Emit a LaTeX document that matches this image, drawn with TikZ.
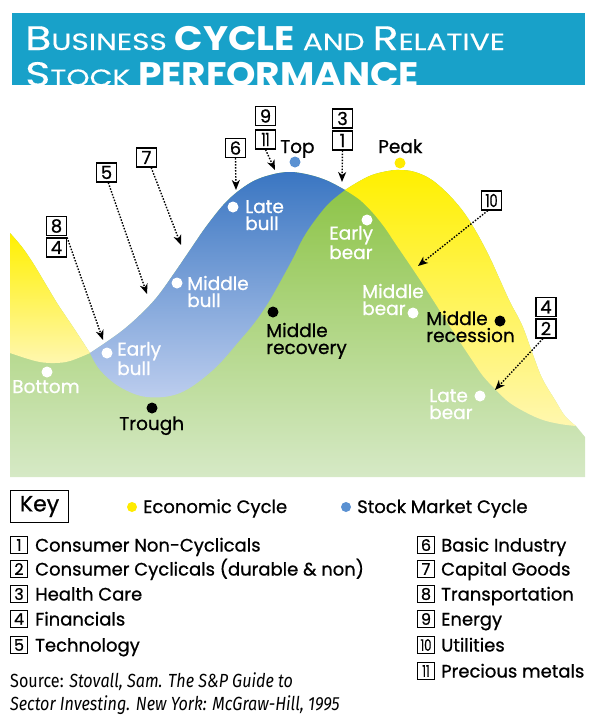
\documentclass[tikz,border=0pt]{standalone}
\usepackage{fontspec}
\usepackage{graphicx}
\setmainfont{Poppins}
\newfontfamily\medfont[FakeBold=0.8]{Poppins}
\newfontfamily\titlereg[FakeStretch=1.26,FakeBold=0.3]{Poppins}
\newfontfamily\titlebold[FakeStretch=1.1]{Poppins}
\newfontfamily\srcfont[FakeStretch=0.85]{Fira Sans}
\usetikzlibrary{arrows.meta}
\definecolor{titlebg}{RGB}{24,161,201}
\definecolor{greenTop}{RGB}{137,194,64}
\definecolor{greenBot}{RGB}{214,233,198}
\definecolor{blueTop}{RGB}{58,118,194}
\definecolor{blueBot}{RGB}{188,205,238}
\definecolor{yelTop}{RGB}{255,240,0}
\definecolor{yelMid}{RGB}{255,242,40}
\definecolor{yelBot}{RGB}{255,247,175}
\definecolor{dotBlue}{RGB}{90,145,210}
\definecolor{dotYel}{RGB}{255,235,0}
\newcommand{\tbig}{\titlereg\mdseries\fontsize{34}{34}\selectfont}
\newcommand{\tsmall}{\titlereg\mdseries\fontsize{23.5}{23.5}\selectfont}
\newcommand{\tbold}{\titlebold\bfseries\fontsize{34}{34}\selectfont}
\newcommand{\nn}[1]{\scalebox{0.72}[1]{#1}}
\tikzset{
  numbox/.style={draw, line width=1.2pt, minimum width=20pt, minimum height=19pt, inner sep=0pt, font=\medfont\fontsize{18}{18}\selectfont},
  keybox/.style={draw, line width=1.1pt, minimum width=17pt, minimum height=17pt, inner sep=0pt, font=\medfont\fontsize{16}{16}\selectfont},
  dotarrow/.style={line width=1.4pt, dash pattern=on 1.5pt off 1.5pt, -{Stealth[length=10pt,width=8pt,inset=3pt]}},
  lbl/.style={anchor=base west, align=left, inner sep=0pt, font=\medfont\fontsize{18.5}{17}\selectfont},
  wlbl/.style={lbl, text=white},
  wdot/.style={circle, fill=white, minimum size=11pt, inner sep=0pt},
  bdot/.style={circle, fill=black, minimum size=11pt, inner sep=0pt},
  listtxt/.style={anchor=base west, inner sep=0pt, font=\medfont\fontsize{18}{18}\selectfont},
}
\begin{document}
\begin{tikzpicture}[x=1pt,y=-1pt]
\useasboundingbox (0,0) rectangle (595,724);
% title
\fill[titlebg] (12,12.5) rectangle (585,85);
\begin{scope}
\clip (12,12.5) rectangle (585,85);
\node[anchor=base west, inner sep=0pt, text=white] (title1) at (25,50)
  {\tbig B\tsmall USINESS \tbold CYCLE \tsmall AND \tbig R\tsmall ELATIVE};
\node[anchor=base west, inner sep=0pt, text=white] (title2) at (25,86)
  {\tbig S\tsmall TOCK \tbold PERFORMANCE};
\end{scope}
% green area (extends under the waves)
\shade[top color=greenTop, bottom color=greenBot]
  (10,477) -- (10,233)
  -- plot[smooth, tension=0.6] coordinates {(10,233) (22,247) (33,263) (45,283) (57,303) (67,318) (77,333) (90,353)}
  -- plot[smooth, tension=0.6] coordinates {(90,353) (105,343) (123,330) (140,315) (157,297) (175,272) (190,250) (208,224) (228,200) (250,183) (270,175) (290,172) (310,175) (328,181) (345,190)}
  -- plot[smooth, tension=0.6] coordinates {(345,190) (358,182) (372,175) (388,171) (400,170) (415,172) (432,180) (450,196) (465,214) (478,235) (490,258) (500,280) (510,302) (522,325) (532,352) (542,378) (555,400) (565,416) (576,426)}
  -- (585,437) -- (585,477) -- cycle;
% yellow left
\shade[top color=yelTop, bottom color=yelBot]
  plot[smooth, tension=0.6] coordinates {(10,233) (22,247) (33,263) (45,283) (57,303) (67,318) (77,333) (90,353)}
  -- plot[smooth, tension=0.6] coordinates {(90,353) (70,361) (55,363) (40,362) (25,358) (10,353)}
  -- cycle;
% blue
\shade[top color=blueTop, bottom color=blueBot]
  plot[smooth, tension=0.6] coordinates {(90,353) (105,343) (123,330) (140,315) (157,297) (175,272) (190,250) (208,224) (228,200) (250,183) (270,175) (290,172) (310,175) (328,181) (345,190)}
  -- plot[smooth, tension=0.6] coordinates {(345,190) (329,203) (315,220) (303,238) (293,258) (280,282) (268,303) (255,322) (240,340) (213,370) (180,393) (147,397) (120,387) (100,370) (90,353)}
  -- cycle;
% yellow right
\shade[top color=yelTop, middle color=yelMid, bottom color=yelBot]
  plot[smooth, tension=0.6] coordinates {(345,190) (358,182) (372,175) (388,171) (400,170) (415,172) (432,180) (450,196) (465,214) (478,235) (490,258) (500,280) (510,302) (522,325) (532,352) (542,378) (555,400) (565,416) (576,426)}
  -- plot[smooth, tension=0.6] coordinates {(576,426) (560,424) (543,420) (527,413) (510,403) (497,391) (483,376) (472,360) (460,342) (447,322) (433,300) (422,283) (410,265) (395,243) (385,228) (373,213) (360,200) (345,190)}
  -- cycle;
% dots and labels (base anchor = last line)
\node[circle, fill=dotBlue, minimum size=11pt, inner sep=0pt] (topdot) at (295,162) {};
\node[lbl] (top) at (280,153) {Top};
\node[circle, fill=dotYel, minimum size=11pt, inner sep=0pt] (peakdot) at (400,163) {};
\node[lbl] (peak) at (378,153) {Peak};
\node[wdot] (latebulldot) at (233,207) {};
\node[wlbl] (latebull) at (245,230) {Late\\bull};
\node[wdot] (midbulldot) at (177,283) {};
\node[wlbl] (midbull) at (187,307) {Middle\\bull};
\node[wdot] (earlybulldot) at (107,353) {};
\node[wlbl] (earlybull) at (117,375) {Early\\bull};
\node[wdot] (bottomdot) at (47,372) {};
\node[wlbl] (bottom) at (12,393) {Bottom};
\node[bdot] (troughdot) at (152,408) {};
\node[lbl] (trough) at (119,430) {Trough};
\node[bdot] (midrecdot) at (273,312) {};
\node[lbl] (midrec) at (266,354) {Middle\\recovery};
\node[wdot] (earlybeardot) at (367,220) {};
\node[wlbl] (earlybear) at (329,259) {Early\\bear};
\node[wdot] (midbeardot) at (413,313) {};
\node[wlbl] (midbear) at (362,315) {Middle\\bear};
\node[bdot] (midrecessdot) at (500,321) {};
\node[lbl] (midrecess) at (426,342) {Middle\\recession};
\node[wdot] (latebeardot) at (480,396) {};
\node[wlbl] (latebear) at (429,419) {Late\\bear};
% number boxes
\node[numbox] (b9) at (265.5,116) {9};
\node[numbox] (b11) at (265.5,139.5) {\nn{11}};
\node[numbox] (b3) at (342.5,118.5) {3};
\node[numbox] (b1) at (342.5,140.5) {1};
\node[numbox] (b6) at (235.5,148) {6};
\node[numbox] (b7) at (146.5,157.5) {7};
\node[numbox] (b5) at (106.5,172.5) {5};
\node[numbox] (b8) at (56.5,226) {8};
\node[numbox] (b4) at (56.5,247.5) {4};
\node[numbox] (b10) at (491.5,200.5) {\nn{10}};
\node[numbox] (b4r) at (546,307) {4};
\node[numbox] (b2) at (546,328.5) {2};
% arrow tips
\coordinate (t4) at (103,340);
\coordinate (t5) at (147,294);
\coordinate (t7) at (181,245);
\coordinate (t6) at (236,190);
\coordinate (t11) at (275,170);
\coordinate (t1) at (342,182);
\coordinate (t10) at (418,266);
\coordinate (t2) at (495,390);
\draw[dotarrow] (b4.north east) -- (t4);
\draw[dotarrow] (b5.-80) -- (t5);
\draw[dotarrow] (b7.-65) -- (t7);
\draw[dotarrow] (b6.south) -- (t6);
\draw[dotarrow] (b11.south) -- (t11);
\draw[dotarrow] (b1.south) -- (t1);
\draw[dotarrow] (b10.-110) -- (t10);
\draw[dotarrow] (b2.-107) -- (t2);
% key
\node[draw, line width=1.1pt, minimum width=58pt, minimum height=32pt, inner sep=0pt, anchor=north west, font=\medfont\fontsize{22}{22}\selectfont] (key) at (10,490) {Key};
\node[circle, fill=dotYel, minimum size=10pt, inner sep=0pt] (keyy) at (132,507) {};
\node[listtxt] (econ) at (143,513) {Economic Cycle};
\node[circle, fill=dotBlue, minimum size=10pt, inner sep=0pt] (keyb) at (346,507) {};
\node[listtxt] (stock) at (357,513) {Stock Market Cycle};
% list left
\node[keybox] (k1) at (19,545) {1};
\node[listtxt] (l1) at (35,551.5) {Consumer Non-Cyclicals};
\node[keybox] (k2) at (19,569) {2};
\node[listtxt] (l2) at (35,575.5) {Consumer Cyclicals (durable \& non)};
\node[keybox] (k3) at (19,594) {3};
\node[listtxt] (l3) at (35,600.5) {Health Care};
\node[keybox] (k4) at (19,619) {4};
\node[listtxt] (l4) at (35,625.5) {Financials};
\node[keybox] (k5) at (19,645) {5};
\node[listtxt] (l5) at (35,651.5) {Technology};
% list right
\node[keybox] (k6) at (426,545) {6};
\node[listtxt] (l6) at (441,551.5) {Basic Industry};
\node[keybox] (k7) at (426,569) {7};
\node[listtxt] (l7) at (441,575.5) {Capital Goods};
\node[keybox] (k8) at (426,594) {8};
\node[listtxt] (l8) at (441,600.5) {Transportation};
\node[keybox] (k9) at (426,619) {9};
\node[listtxt] (l9) at (441,625.5) {Energy};
\node[keybox] (k10) at (426,645) {\nn{10}};
\node[listtxt] (l10) at (441,651.5) {Utilities};
\node[keybox] (k11) at (426,671) {\nn{11}};
\node[listtxt] (l11) at (441,677.5) {Precious metals};
% source (base anchor = last line)
\node[anchor=base west, align=left, inner sep=0pt, font=\srcfont\fontsize{19}{23}\selectfont] (source) at (10,710)
  {Source: \itshape Stovall, Sam. The S\&P Guide to\\\itshape Sector Investing. New York: McGraw-Hill, 1995};
\end{tikzpicture}
\end{document}
